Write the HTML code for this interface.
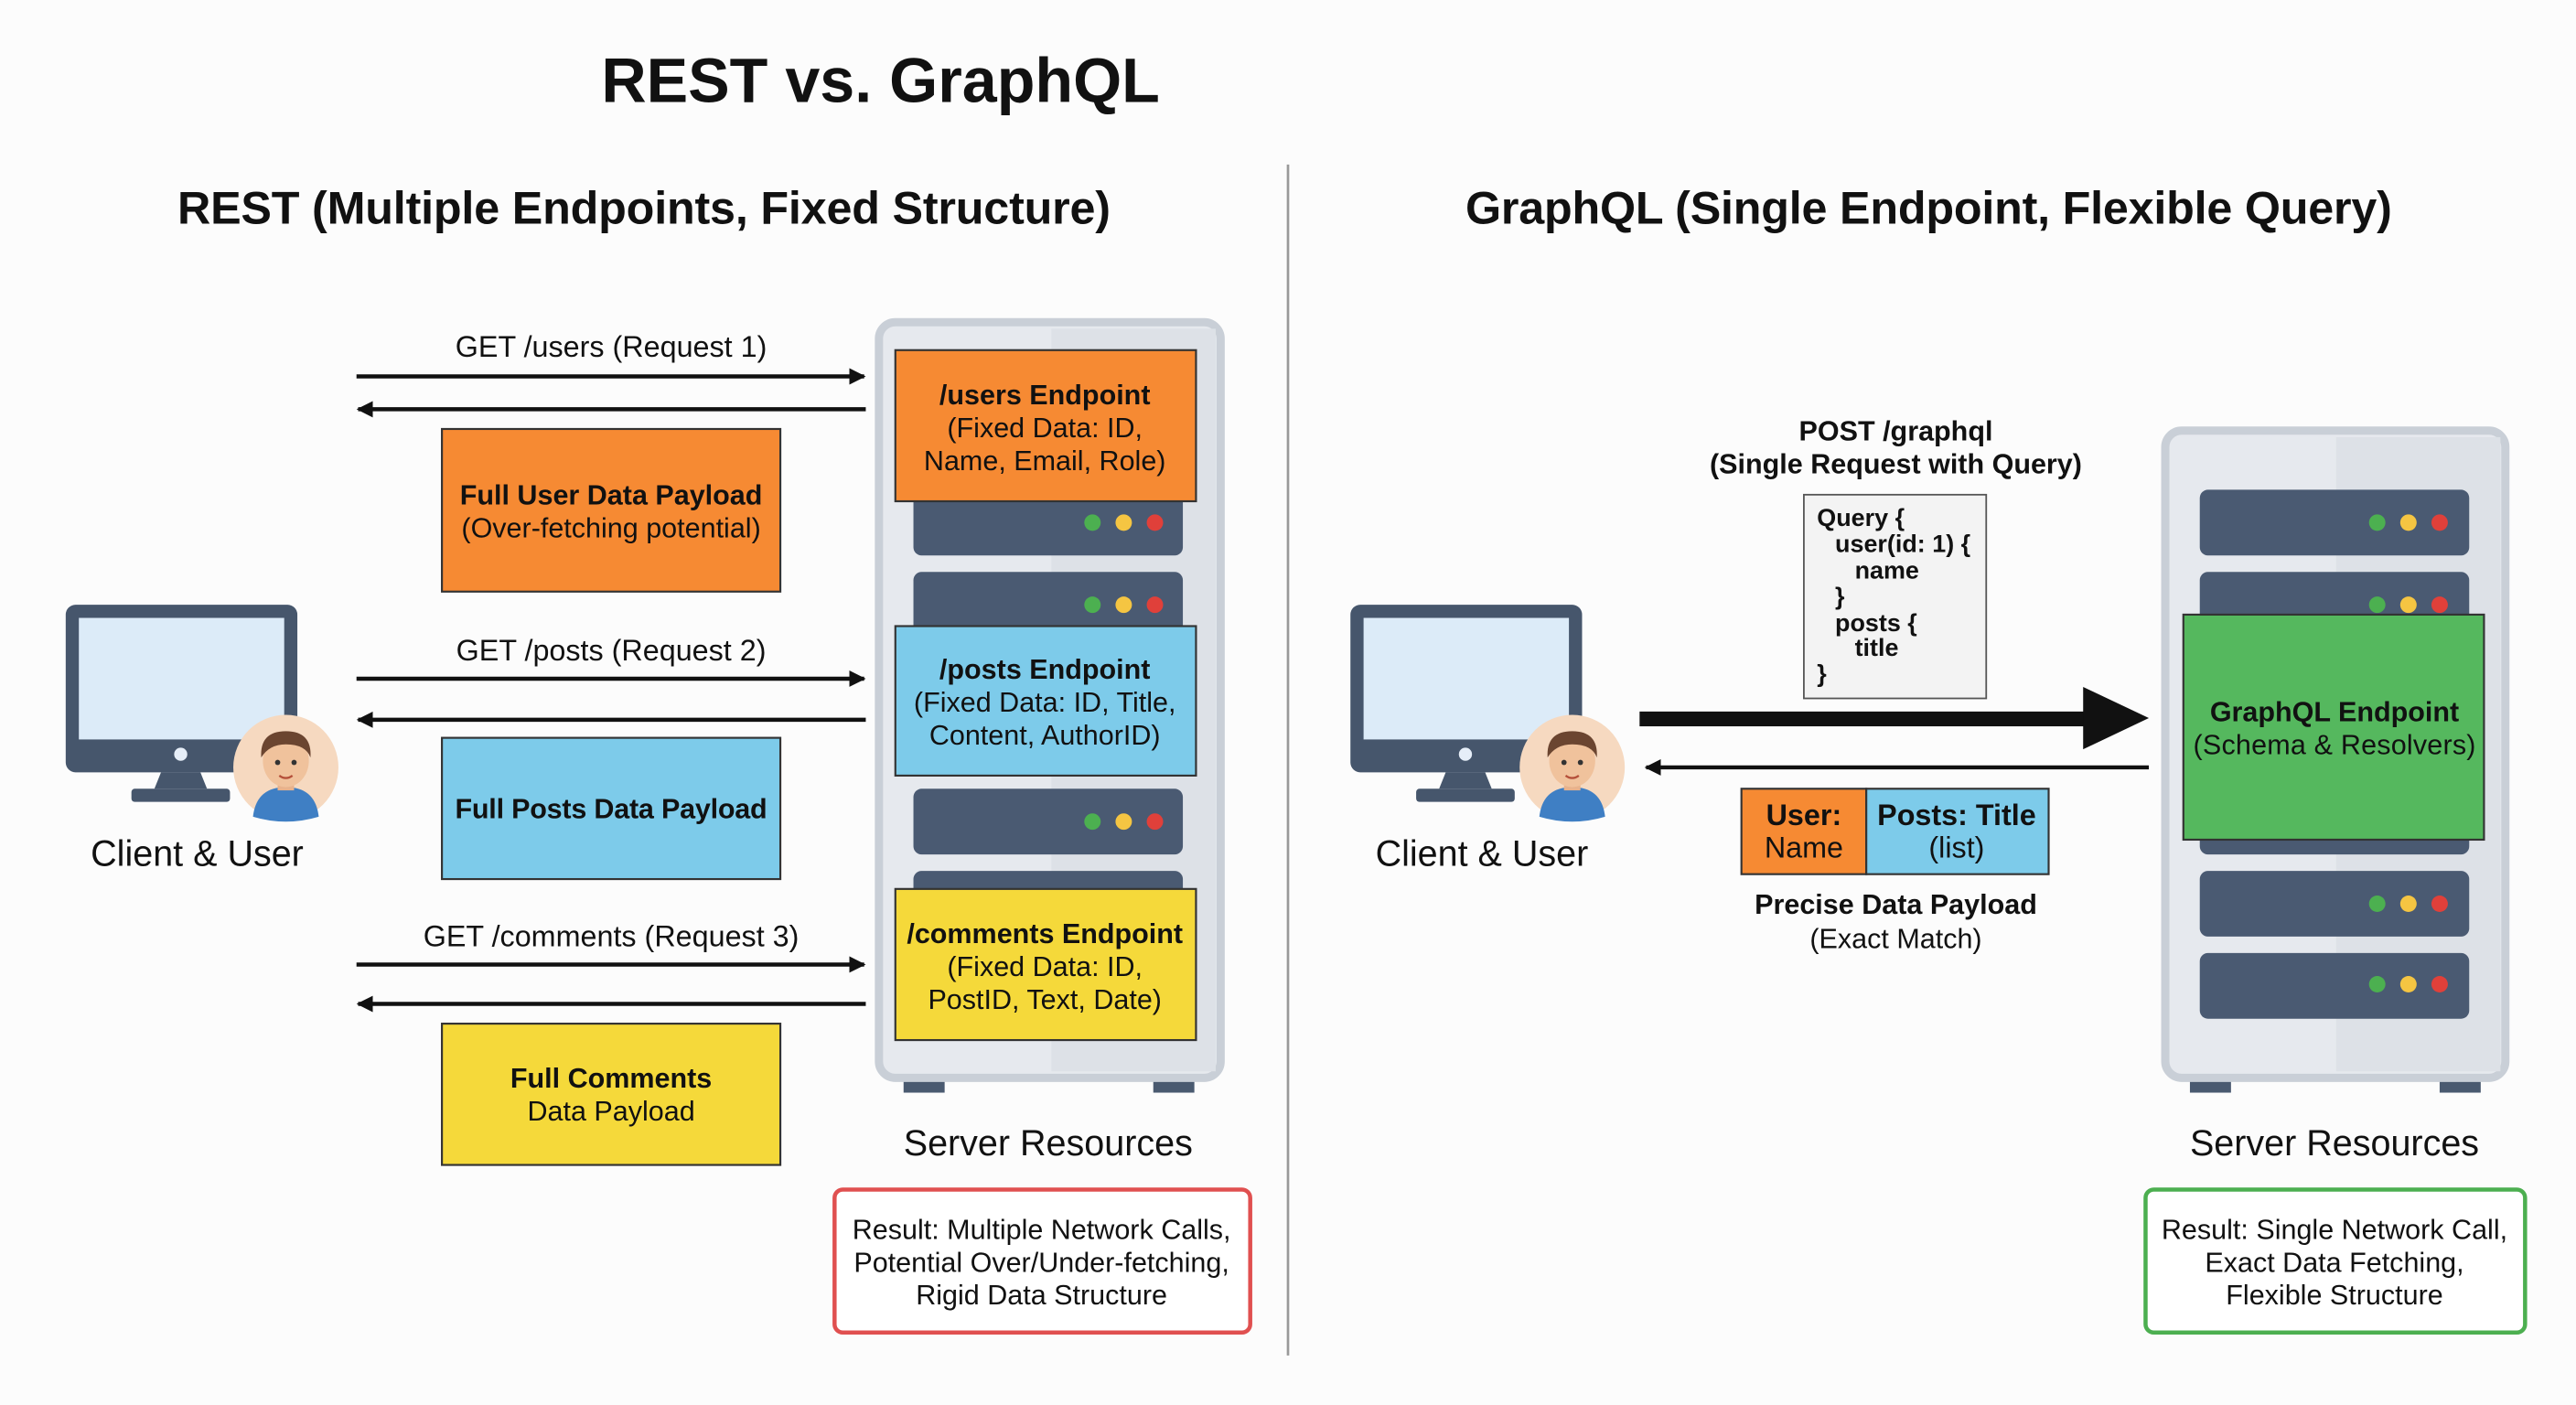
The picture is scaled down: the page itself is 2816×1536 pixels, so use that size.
<!DOCTYPE html>
<html><head><meta charset="utf-8"><style>
html,body{margin:0;padding:0;background:#fcfcfc;}
svg{display:block;}
text{font-family:"Liberation Sans",sans-serif;fill:#111;}
.b{font-weight:bold;}
</style></head><body>
<svg width="2816" height="1536" viewBox="0 0 1568 855" xmlns="http://www.w3.org/2000/svg">
<defs>
<marker id="ah" markerWidth="10" markerHeight="10" refX="9" refY="5" orient="auto" markerUnits="userSpaceOnUse"><path d="M0,0 L10,5 L0,10 Z" fill="#111"/></marker>
<g id="mon">
 <rect x="0" y="0" width="141" height="102" rx="6" fill="#46566c"/>
 <rect x="8" y="8" width="125" height="74" fill="#dcebf8"/>
 <circle cx="70" cy="91" r="4" fill="#e6eef8"/>
 <path d="M58,102 L54,112 L86,112 L82,102 Z" fill="#46566c"/>
 <rect x="40" y="112" width="60" height="8" rx="2" fill="#46566c"/>
</g>
<g id="av">
 <circle cx="0" cy="0" r="32" fill="#f6d9c0"/>
 <path d="M-20,30 Q-18,12 0,12 Q18,12 20,30 Q10,33 0,33 Q-10,33 -20,30Z" fill="#3f7fc4"/>
 <rect x="-5" y="5" width="10" height="9" fill="#e8b28c"/>
 <ellipse cx="0" cy="-4" rx="14" ry="16" fill="#f0c29c"/>
 <path d="M-15,-6 Q-16,-22 0,-22 Q16,-22 15,-6 Q12,-14 0,-14 Q-10,-14 -15,-6Z" fill="#6b4530"/>
 <circle cx="-5" cy="-3" r="1.6" fill="#333"/><circle cx="5" cy="-3" r="1.6" fill="#333"/>
 <path d="M-4,5 Q0,8 4,5" stroke="#b5503a" stroke-width="1.3" fill="none"/>
</g>
<g id="dots"><circle cx="0" cy="0" r="5" fill="#4cb050"/><circle cx="19" cy="0" r="5" fill="#f5c542"/><circle cx="38" cy="0" r="5" fill="#e0403a"/></g>
</defs>

<text x="536" y="62" text-anchor="middle" class="b" font-size="38">REST vs. GraphQL</text>
<line x1="784" y1="100" x2="784" y2="825" stroke="#999" stroke-width="1.5"/>
<text x="392" y="136" text-anchor="middle" class="b" font-size="28" textLength="568">REST (Multiple Endpoints, Fixed Structure)</text>
<text x="1174" y="136" text-anchor="middle" class="b" font-size="28" textLength="564">GraphQL (Single Endpoint, Flexible Query)</text>

<!-- Left server -->
<rect x="550" y="650" width="25" height="15" fill="#4a5a70"/><rect x="702" y="650" width="25" height="15" fill="#4a5a70"/>
<rect x="535" y="196" width="208" height="460" rx="10" fill="#e6e9ee" stroke="#c9cfd7" stroke-width="5"/>
<rect x="640" y="200" width="100" height="452" fill="#dde1e7"/>
<rect x="556" y="298" width="164" height="40" rx="5" fill="#4a5a72"/>
<rect x="556" y="348" width="164" height="40" rx="5" fill="#4a5a72"/>
<rect x="556" y="480" width="164" height="40" rx="5" fill="#4a5a72"/>
<rect x="556" y="530" width="164" height="20" rx="5" fill="#4a5a72"/>
<use href="#dots" x="665" y="318"/><use href="#dots" x="665" y="368"/><use href="#dots" x="665" y="500"/>
<rect x="545" y="213" width="183" height="92" fill="#f68a33" stroke="#333" stroke-width="1.2"/>
<text x="636" y="246" text-anchor="middle" font-size="17" class="b">/users Endpoint</text>
<text x="636" y="266" text-anchor="middle" font-size="17">(Fixed Data: ID,</text>
<text x="636" y="286" text-anchor="middle" font-size="17">Name, Email, Role)</text>
<rect x="545" y="381" width="183" height="91" fill="#7dcbea" stroke="#333" stroke-width="1.2"/>
<text x="636" y="413" text-anchor="middle" font-size="17" class="b">/posts Endpoint</text>
<text x="636" y="433" text-anchor="middle" font-size="17">(Fixed Data: ID, Title,</text>
<text x="636" y="453" text-anchor="middle" font-size="17">Content, AuthorID)</text>
<rect x="545" y="541" width="183" height="92" fill="#f5d93a" stroke="#333" stroke-width="1.2"/>
<text x="636" y="574" text-anchor="middle" font-size="17" class="b" textLength="168">/comments Endpoint</text>
<text x="636" y="594" text-anchor="middle" font-size="17">(Fixed Data: ID,</text>
<text x="636" y="614" text-anchor="middle" font-size="17">PostID, Text, Date)</text>

<!-- Left arrows -->
<g stroke="#111" stroke-width="2.5">
<line x1="217" y1="229" x2="526" y2="229" marker-end="url(#ah)"/>
<line x1="527" y1="249" x2="218" y2="249" marker-end="url(#ah)"/>
<line x1="217" y1="413" x2="526" y2="413" marker-end="url(#ah)"/>
<line x1="527" y1="438" x2="218" y2="438" marker-end="url(#ah)"/>
<line x1="217" y1="587" x2="526" y2="587" marker-end="url(#ah)"/>
<line x1="527" y1="611" x2="218" y2="611" marker-end="url(#ah)"/>
</g>
<text x="372" y="217" text-anchor="middle" font-size="18">GET /users (Request 1)</text>
<text x="372" y="402" text-anchor="middle" font-size="18">GET /posts (Request 2)</text>
<text x="372" y="576" text-anchor="middle" font-size="18">GET /comments (Request 3)</text>

<rect x="269" y="261" width="206" height="99" fill="#f68a33" stroke="#333" stroke-width="1.2"/>
<text x="372" y="307" text-anchor="middle" font-size="17" class="b">Full User Data Payload</text>
<text x="372" y="327" text-anchor="middle" font-size="17">(Over-fetching potential)</text>
<rect x="269" y="449" width="206" height="86" fill="#7dcbea" stroke="#333" stroke-width="1.2"/>
<text x="372" y="498" text-anchor="middle" font-size="17" class="b" textLength="190">Full Posts Data Payload</text>
<rect x="269" y="623" width="206" height="86" fill="#f5d93a" stroke="#333" stroke-width="1.2"/>
<text x="372" y="662" text-anchor="middle" font-size="17" class="b">Full Comments</text>
<text x="372" y="682" text-anchor="middle" font-size="17">Data Payload</text>

<use href="#mon" x="40" y="368"/>
<use href="#av" x="174" y="467"/>
<text x="120" y="527" text-anchor="middle" font-size="22">Client &amp; User</text>
<text x="638" y="703" text-anchor="middle" font-size="22">Server Resources</text>
<rect x="508" y="724" width="253" height="87" rx="5" fill="#fff" stroke="#e05050" stroke-width="2.5"/>
<text x="634" y="754" text-anchor="middle" font-size="17">Result: Multiple Network Calls,</text>
<text x="634" y="774" text-anchor="middle" font-size="17">Potential Over/Under-fetching,</text>
<text x="634" y="794" text-anchor="middle" font-size="17">Rigid Data Structure</text>

<!-- Right side -->
<use href="#mon" x="822" y="368"/>
<use href="#av" x="957" y="467"/>
<text x="902" y="527" text-anchor="middle" font-size="22">Client &amp; User</text>

<text x="1154" y="268" text-anchor="middle" font-size="17" class="b">POST /graphql</text>
<text x="1154" y="288" text-anchor="middle" font-size="17" class="b">(Single Request with Query)</text>
<rect x="1098" y="301" width="111" height="124" fill="#f3f3f3" stroke="#555" stroke-width="1"/>
<g font-size="15" class="b">
<text x="1106" y="320" class="b">Query {</text>
<text x="1117" y="336" class="b">user(id: 1) {</text>
<text x="1129" y="352" class="b">name</text>
<text x="1117" y="368" class="b">}</text>
<text x="1117" y="384" class="b">posts {</text>
<text x="1129" y="399" class="b">title</text>
<text x="1106" y="415" class="b">}</text>
</g>
<rect x="998" y="433" width="272" height="9" fill="#111"/>
<path d="M1268,418 L1308,437 L1268,456 Z" fill="#111"/>
<line x1="1308" y1="467" x2="1002" y2="467" stroke="#111" stroke-width="2.5" marker-end="url(#ah)"/>
<rect x="1060" y="480" width="76" height="52" fill="#f68a33" stroke="#333" stroke-width="1.2"/>
<rect x="1136" y="480" width="111" height="52" fill="#7dcbea" stroke="#333" stroke-width="1.2"/>
<text x="1098" y="502" text-anchor="middle" font-size="18" class="b">User:</text>
<text x="1098" y="522" text-anchor="middle" font-size="18">Name</text>
<text x="1191" y="502" text-anchor="middle" font-size="18" class="b">Posts: Title</text>
<text x="1191" y="522" text-anchor="middle" font-size="18">(list)</text>
<text x="1154" y="556" text-anchor="middle" font-size="17" class="b">Precise Data Payload</text>
<text x="1154" y="577" text-anchor="middle" font-size="17">(Exact Match)</text>

<rect x="1333" y="650" width="25" height="15" fill="#4a5a70"/><rect x="1485" y="650" width="25" height="15" fill="#4a5a70"/>
<rect x="1318" y="262" width="207" height="394" rx="10" fill="#e6e9ee" stroke="#c9cfd7" stroke-width="5"/>
<rect x="1422" y="266" width="100" height="386" fill="#dde1e7"/>
<rect x="1339" y="298" width="164" height="40" rx="5" fill="#4a5a72"/>
<rect x="1339" y="348" width="164" height="40" rx="5" fill="#4a5a72"/>
<rect x="1339" y="498" width="164" height="22" rx="5" fill="#4a5a72"/>
<rect x="1339" y="530" width="164" height="40" rx="5" fill="#4a5a72"/>
<rect x="1339" y="580" width="164" height="40" rx="5" fill="#4a5a72"/>
<use href="#dots" x="1447" y="318"/><use href="#dots" x="1447" y="368"/><use href="#dots" x="1447" y="550"/><use href="#dots" x="1447" y="599"/>
<rect x="1329" y="374" width="183" height="137" fill="#55b85e" stroke="#333" stroke-width="1.2"/>
<text x="1421" y="439" text-anchor="middle" font-size="17" class="b">GraphQL Endpoint</text>
<text x="1421" y="459" text-anchor="middle" font-size="17" textLength="172">(Schema &amp; Resolvers)</text>
<text x="1421" y="703" text-anchor="middle" font-size="22">Server Resources</text>
<rect x="1306" y="724" width="231" height="87" rx="5" fill="#fff" stroke="#4caf50" stroke-width="2.5"/>
<text x="1421" y="754" text-anchor="middle" font-size="17">Result: Single Network Call,</text>
<text x="1421" y="774" text-anchor="middle" font-size="17">Exact Data Fetching,</text>
<text x="1421" y="794" text-anchor="middle" font-size="17">Flexible Structure</text>
</svg>
</body></html>
